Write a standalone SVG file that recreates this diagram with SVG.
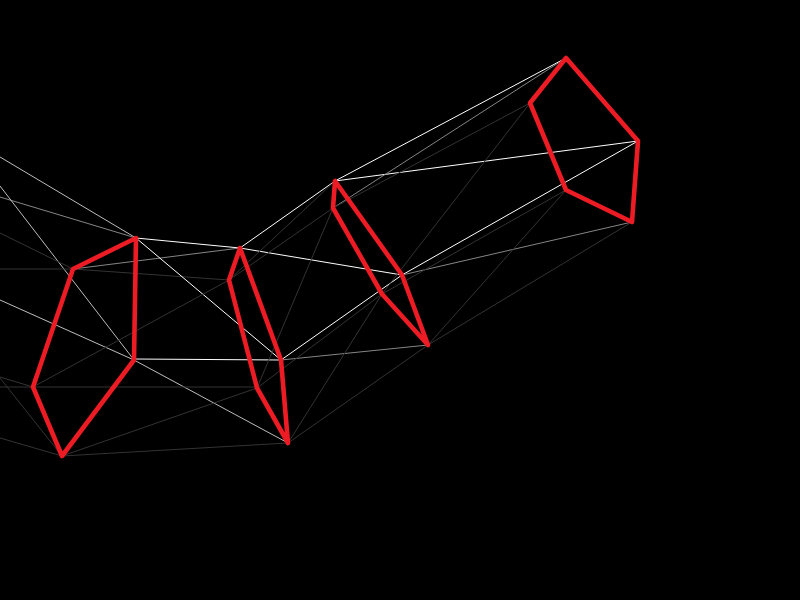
<svg xmlns="http://www.w3.org/2000/svg" width="800" height="600" viewBox="0 0 800 600">
<style>
line{fill:none;stroke-width:1}
.w{stroke:#fff}
.l{stroke:#bdbdbd}
.g{stroke:#858585}
.d{stroke:#333}
polygon{fill:none;stroke:#ed1c24;stroke-width:4.6;stroke-linejoin:round}
</style>
<rect width="800" height="600" fill="#000"/>
<g id="connectors">
<line class="l" x1="0" y1="157" x2="136" y2="238"/>
<line class="g" x1="0" y1="197" x2="136" y2="238"/>
<line class="l" x1="0" y1="186" x2="134" y2="360"/>
<line class="l" x1="0" y1="300" x2="134" y2="360"/>
<line class="d" x1="0" y1="233" x2="73" y2="269"/>
<line class="d" x1="0" y1="269" x2="73" y2="269"/>
<line class="d" x1="0" y1="377" x2="33" y2="387"/>
<line class="d" x1="0" y1="387" x2="33" y2="387"/>
<line class="d" x1="0" y1="378" x2="62" y2="456"/>
<line class="d" x1="0" y1="438" x2="62" y2="456"/>
<line class="w" x1="136" y1="238" x2="240" y2="248"/>
<line class="g" x1="73" y1="269" x2="240" y2="248"/>
<line class="d" x1="73" y1="269" x2="229" y2="280"/>
<line class="w" x1="136" y1="238" x2="281" y2="360"/>
<line class="w" x1="134" y1="359" x2="281" y2="360"/>
<line class="l" x1="134" y1="360" x2="288" y2="443"/>
<line class="d" x1="33" y1="387" x2="257" y2="387"/>
<line class="d" x1="33" y1="387" x2="229" y2="280"/>
<line class="d" x1="62" y1="456" x2="257" y2="388"/>
<line class="d" x1="62" y1="456" x2="288" y2="443"/>
<line class="w" x1="240" y1="248" x2="335" y2="181"/>
<line class="w" x1="240" y1="248" x2="402" y2="275"/>
<line class="w" x1="281" y1="360" x2="402" y2="275"/>
<line class="g" x1="281" y1="360" x2="428" y2="345"/>
<line class="d" x1="229" y1="280" x2="335" y2="181"/>
<line class="d" x1="229" y1="280" x2="333" y2="208"/>
<line class="d" x1="257" y1="388" x2="333" y2="208"/>
<line class="d" x1="257" y1="388" x2="382" y2="294"/>
<line class="d" x1="288" y1="443" x2="382" y2="294"/>
<line class="d" x1="288" y1="443" x2="428" y2="345"/>
<line class="w" x1="335" y1="181" x2="566" y2="58"/>
<line class="w" x1="335" y1="181" x2="638" y2="141"/>
<line class="w" x1="402" y1="275" x2="638" y2="141"/>
<line class="g" x1="402" y1="275" x2="632" y2="222"/>
<line class="g" x1="333" y1="208" x2="566" y2="58"/>
<line class="d" x1="333" y1="208" x2="530" y2="103"/>
<line class="d" x1="382" y1="294" x2="530" y2="103"/>
<line class="d" x1="382" y1="294" x2="566" y2="190"/>
<line class="d" x1="428" y1="345" x2="566" y2="190"/>
<line class="d" x1="428" y1="345" x2="632" y2="222"/>
</g>
<g id="section-1"><polygon points="136,238 73,269 33,387 62,456 134,360"/></g>
<g id="section-2"><polygon points="240,248 229,280 257,388 288,443 281,360"/></g>
<g id="section-3"><polygon points="335,181 333,208 382,294 428,345 402,275"/></g>
<g id="section-4"><polygon points="566,58 530,103 566,190 632,222 638,141"/></g>
</svg>
